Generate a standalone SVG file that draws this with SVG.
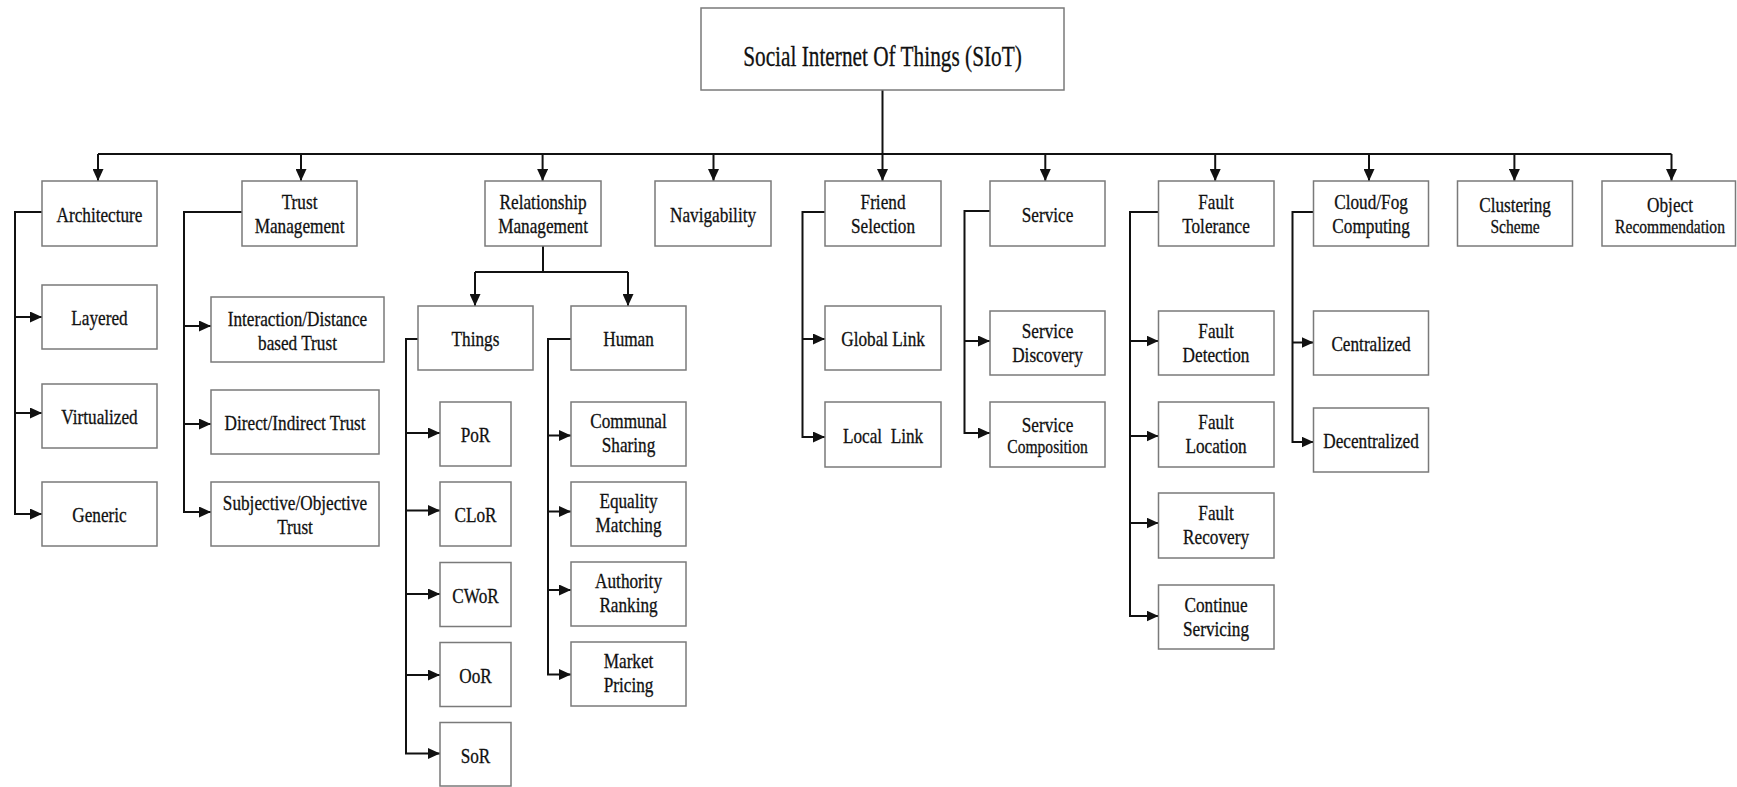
<svg xmlns="http://www.w3.org/2000/svg" width="1737" height="787" viewBox="0 0 1737 787">
<defs>
<style>
.box{fill:#fff;stroke:#7a7a7a;stroke-width:1.5}
.c{fill:none;stroke:#111;stroke-width:2}
.a{marker-end:url(#ah)}
text{font-family:"Liberation Serif","Times New Roman",serif;font-size:21px;fill:#111;stroke:#111;stroke-width:0.3;text-anchor:middle;transform-box:fill-box;transform-origin:center;transform:scaleX(0.82)}
text.title{font-size:30px;transform:scaleX(0.71)}
.sm{font-size:19px}
.pre{white-space:pre}
</style>
<marker id="ah" markerUnits="userSpaceOnUse" markerWidth="12" markerHeight="11" refX="12" refY="5.5" orient="auto">
<path d="M0,0 L12,5.5 L0,11 z" fill="#111"/>
</marker>
</defs>
<rect width="1737" height="787" fill="#fff"/>

<g id="connectors">
<path class="c" d="M98,154 H1671.5"/>
<path class="c a" d="M882.5,90 V181"/>
<path class="c a" d="M98,154 V181"/>
<path class="c a" d="M301,154 V181"/>
<path class="c a" d="M542.6,154 V181"/>
<path class="c a" d="M713.5,154 V181"/>
<path class="c a" d="M1045.3,154 V181"/>
<path class="c a" d="M1215.2,154 V181"/>
<path class="c a" d="M1369,154 V181"/>
<path class="c a" d="M1514.4,154 V181"/>
<path class="c a" d="M1671.5,154 V181"/>
<path class="c a" d="M42,212 H15 V514 H42"/>
<path class="c a" d="M15,317 H42"/>
<path class="c a" d="M15,413 H42"/>
<path class="c a" d="M242,212 H184 V512 H211"/>
<path class="c a" d="M184,326 H211"/>
<path class="c a" d="M184,424 H211"/>
<path class="c" d="M543,246 V272"/>
<path class="c" d="M475,272 H628"/>
<path class="c a" d="M475,272 V306"/>
<path class="c a" d="M628,272 V306"/>
<path class="c a" d="M418,339 H406 V753.5 H440"/>
<path class="c a" d="M406,433 H440"/>
<path class="c a" d="M406,510.5 H440"/>
<path class="c a" d="M406,594 H440"/>
<path class="c a" d="M406,675 H440"/>
<path class="c a" d="M571,339 H548 V674.5 H571"/>
<path class="c a" d="M548,435.5 H571"/>
<path class="c a" d="M548,511.5 H571"/>
<path class="c a" d="M548,590 H571"/>
<path class="c a" d="M825,212 H802.5 V437 H825"/>
<path class="c a" d="M802.5,339 H825"/>
<path class="c a" d="M990,211 H964.5 V433 H990"/>
<path class="c a" d="M964.5,341 H990"/>
<path class="c a" d="M1158.5,212 H1130 V616 H1158.5"/>
<path class="c a" d="M1130,341 H1158.5"/>
<path class="c a" d="M1130,436 H1158.5"/>
<path class="c a" d="M1130,523 H1158.5"/>
<path class="c a" d="M1313.5,212 H1292.5 V442 H1313.5"/>
<path class="c a" d="M1292.5,342.5 H1313.5"/>
</g>

<g id="root"><rect class="box" x="701" y="8" width="363" height="82"/><text class="title" x="882.5" y="66.5">Social Internet Of Things (SIoT)</text></g>

<g id="architecture"><rect class="box" x="42" y="181" width="115" height="65"/><text x="99.5" y="222">Architecture</text></g>
<g id="trust"><rect class="box" x="242" y="181" width="115" height="65"/><text x="299.5" y="209"><tspan x="299.5">Trust</tspan><tspan x="299.5" dy="24">Management</tspan></text></g>
<g id="relationship"><rect class="box" x="485" y="181" width="116" height="65"/><text x="543" y="209"><tspan x="543">Relationship</tspan><tspan x="543" dy="24">Management</tspan></text></g>
<g id="navigability"><rect class="box" x="655" y="181" width="116" height="65"/><text x="713" y="222">Navigability</text></g>
<g id="friend"><rect class="box" x="825" y="181" width="116" height="65"/><text x="883" y="209"><tspan x="883">Friend</tspan><tspan x="883" dy="24">Selection</tspan></text></g>
<g id="service"><rect class="box" x="990" y="181" width="115" height="65"/><text x="1047.5" y="222">Service</text></g>
<g id="fault"><rect class="box" x="1158.5" y="181" width="115.5" height="65"/><text x="1216" y="209"><tspan x="1216">Fault</tspan><tspan x="1216" dy="24">Tolerance</tspan></text></g>
<g id="cloud"><rect class="box" x="1313.5" y="181" width="115" height="65"/><text x="1371" y="209"><tspan x="1371">Cloud/Fog</tspan><tspan x="1371" dy="24">Computing</tspan></text></g>
<g id="clustering"><rect class="box" x="1457.5" y="181" width="115" height="65"/><text x="1515" y="212"><tspan x="1515">Clustering</tspan><tspan class="sm" x="1515" dy="21.5">Scheme</tspan></text></g>
<g id="object"><rect class="box" x="1602" y="181" width="133.5" height="65"/><text x="1670" y="212"><tspan x="1670">Object</tspan><tspan class="sm" x="1670" dy="21.5">Recommendation</tspan></text></g>

<g id="layered"><rect class="box" x="42" y="285" width="115" height="64"/><text x="99.5" y="325.5">Layered</text></g>
<g id="virtualized"><rect class="box" x="42" y="384" width="115" height="64"/><text x="99.5" y="424">Virtualized</text></g>
<g id="generic"><rect class="box" x="42" y="482" width="115" height="64"/><text x="99.5" y="522.5">Generic</text></g>

<g id="interaction"><rect class="box" x="211" y="297" width="173" height="65"/><text x="297.5" y="326"><tspan x="297.5">Interaction/Distance</tspan><tspan x="297.5" dy="24">based Trust</tspan></text></g>
<g id="direct"><rect class="box" x="211" y="390" width="168" height="64"/><text x="295" y="430.5">Direct/Indirect Trust</text></g>
<g id="subjective"><rect class="box" x="211" y="482" width="168" height="64"/><text x="295" y="510"><tspan x="295">Subjective/Objective</tspan><tspan x="295" dy="24">Trust</tspan></text></g>

<g id="things"><rect class="box" x="418" y="306" width="115" height="64"/><text x="475.5" y="346.5">Things</text></g>
<g id="human"><rect class="box" x="571" y="306" width="115" height="64"/><text x="628.5" y="346.5">Human</text></g>

<g id="por"><rect class="box" x="440" y="402" width="71" height="64"/><text x="475.5" y="442.5">PoR</text></g>
<g id="clor"><rect class="box" x="440" y="482" width="71" height="64"/><text x="475.5" y="522.5">CLoR</text></g>
<g id="cwor"><rect class="box" x="440" y="562.5" width="71" height="64"/><text x="475.5" y="603">CWoR</text></g>
<g id="oor"><rect class="box" x="440" y="642.5" width="71" height="64"/><text x="475.5" y="683">OoR</text></g>
<g id="sor"><rect class="box" x="440" y="722.5" width="71" height="63.5"/><text x="475.5" y="763">SoR</text></g>

<g id="communal"><rect class="box" x="571" y="402" width="115" height="64"/><text x="628.5" y="428"><tspan x="628.5">Communal</tspan><tspan x="628.5" dy="24">Sharing</tspan></text></g>
<g id="equality"><rect class="box" x="571" y="482" width="115" height="64"/><text x="628.5" y="508"><tspan x="628.5">Equality</tspan><tspan x="628.5" dy="24">Matching</tspan></text></g>
<g id="authority"><rect class="box" x="571" y="562" width="115" height="64"/><text x="628.5" y="588"><tspan x="628.5">Authority</tspan><tspan x="628.5" dy="24">Ranking</tspan></text></g>
<g id="market"><rect class="box" x="571" y="642" width="115" height="64"/><text x="628.5" y="668"><tspan x="628.5">Market</tspan><tspan x="628.5" dy="24">Pricing</tspan></text></g>

<g id="global"><rect class="box" x="825" y="306" width="116" height="64"/><text x="883" y="346.5">Global Link</text></g>
<g id="local"><rect class="box" x="825" y="402" width="116" height="65"/><text class="pre" x="883" y="443">Local  Link</text></g>

<g id="discovery"><rect class="box" x="990" y="311" width="115" height="64"/><text x="1047.5" y="338"><tspan x="1047.5">Service</tspan><tspan x="1047.5" dy="24">Discovery</tspan></text></g>
<g id="composition"><rect class="box" x="990" y="402" width="115" height="65"/><text x="1047.5" y="432"><tspan x="1047.5">Service</tspan><tspan class="sm" x="1047.5" dy="21">Composition</tspan></text></g>

<g id="detection"><rect class="box" x="1158.5" y="311" width="115.5" height="64"/><text x="1216" y="338"><tspan x="1216">Fault</tspan><tspan x="1216" dy="24">Detection</tspan></text></g>
<g id="location"><rect class="box" x="1158.5" y="402" width="115.5" height="65"/><text x="1216" y="429.5"><tspan x="1216">Fault</tspan><tspan x="1216" dy="24">Location</tspan></text></g>
<g id="recovery"><rect class="box" x="1158.5" y="493" width="115.5" height="65"/><text x="1216" y="520.5"><tspan x="1216">Fault</tspan><tspan x="1216" dy="24">Recovery</tspan></text></g>
<g id="continue"><rect class="box" x="1158.5" y="585" width="115.5" height="64"/><text x="1216" y="612"><tspan x="1216">Continue</tspan><tspan x="1216" dy="24">Servicing</tspan></text></g>

<g id="centralized"><rect class="box" x="1313.5" y="311" width="115" height="64"/><text x="1371" y="351.5">Centralized</text></g>
<g id="decentralized"><rect class="box" x="1313.5" y="408" width="115" height="64"/><text x="1371" y="448.5">Decentralized</text></g>
</svg>
